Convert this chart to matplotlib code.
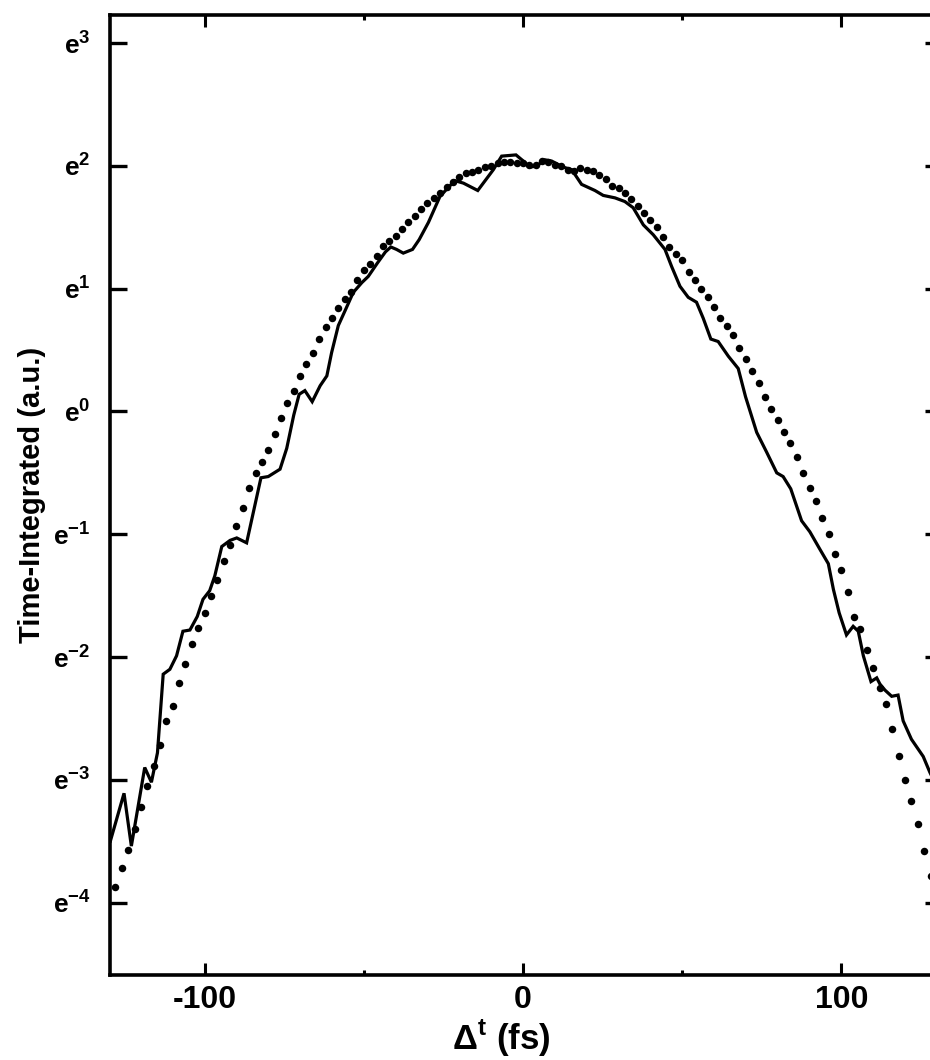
import numpy as np
import matplotlib
matplotlib.use("Agg")
import matplotlib.pyplot as plt
from matplotlib.ticker import FixedLocator, FixedFormatter

plt.rcParams['font.family'] = ['Liberation Sans', 'DejaVu Sans']
plt.rcParams['font.weight'] = 'bold'
plt.rcParams['mathtext.fontset'] = 'custom'
plt.rcParams['mathtext.rm'] = 'Liberation Sans:bold'

# measured trace (delay in fs, natural log of signal)
meas_t = [-129.6, -125.3, -123.0, -118.8, -116.7, -114.8, -113.0, -110.9, -108.8, -106.8,
          -104.6, -102.3, -100.5, -98.4, -96.8, -94.6, -92.0, -89.9, -86.8, -82.3,
          -80.0, -76.3, -74.2, -72.0, -70.3, -68.5, -66.2, -63.7, -61.6, -60.1,
          -58.0, -55.9, -53.3, -50.6, -48.6, -45.7, -43.2, -41.5, -39.7, -37.6,
          -34.7, -32.6, -29.7, -26.1, -24.0, -21.4, -18.7, -14.2, -9.3, -6.7,
          -2.2, 0.1, 2.2, 4.3, 6.9, 9.0, 12.7, 15.3, 18.4, 22.6,
          25.2, 28.9, 32.0, 34.6, 37.8, 40.9, 44.6, 46.7, 49.3, 51.9,
          54.5, 56.6, 59.0, 61.3, 64.5, 67.6, 69.9, 73.4, 76.5, 79.7,
          81.7, 84.1, 87.5, 90.1, 93.2, 95.9, 97.5, 99.3, 101.6, 103.7,
          105.3, 106.9, 109.3, 111.1, 112.1, 113.7, 115.8, 117.8, 119.4, 122.0,
          125.7, 127.8, 131.6]
meas_ln = [-3.50, -3.11, -3.54, -2.90, -3.02, -2.78, -2.14, -2.10, -1.99, -1.79,
           -1.78, -1.67, -1.53, -1.46, -1.34, -1.10, -1.05, -1.03, -1.07, -0.54,
           -0.53, -0.47, -0.30, -0.03, 0.14, 0.17, 0.08, 0.21, 0.29, 0.48,
           0.70, 0.82, 0.97, 1.05, 1.10, 1.21, 1.30, 1.34, 1.32, 1.29,
           1.32, 1.40, 1.54, 1.75, 1.81, 1.88, 1.86, 1.80, 1.97, 2.08,
           2.09, 2.04, 1.99, 2.00, 2.05, 2.04, 1.99, 1.97, 1.85, 1.80,
           1.76, 1.74, 1.71, 1.66, 1.52, 1.44, 1.32, 1.18, 1.02, 0.93,
           0.89, 0.76, 0.59, 0.57, 0.45, 0.35, 0.12, -0.17, -0.33, -0.50,
           -0.53, -0.63, -0.89, -0.98, -1.12, -1.24, -1.45, -1.64, -1.82, -1.75,
           -1.79, -1.99, -2.20, -2.17, -2.22, -2.27, -2.32, -2.31, -2.52, -2.67,
           -2.81, -2.94, -3.14]

# fitted curve, sampled every 2 fs from -128 to 128
fit_t = np.arange(-128, 129, 2)
fit_ln = [-3.87, -3.72, -3.57, -3.40, -3.22, -3.05, -2.89, -2.72, -2.52, -2.40,
          -2.21, -2.06, -1.89, -1.76, -1.64, -1.50, -1.37, -1.22, -1.09, -0.93,
          -0.79, -0.62, -0.50, -0.41, -0.31, -0.18, -0.05, 0.07, 0.17, 0.29,
          0.39, 0.48, 0.59, 0.69, 0.76, 0.84, 0.92, 0.97, 1.07, 1.15,
          1.20, 1.27, 1.35, 1.39, 1.43, 1.49, 1.54, 1.59, 1.65, 1.70,
          1.74, 1.78, 1.83, 1.87, 1.91, 1.94, 1.95, 1.97, 1.99, 2.00,
          2.02, 2.03, 2.03, 2.02, 2.02, 2.01, 2.01, 2.04, 2.03, 2.01,
          2.00, 1.97, 1.96, 1.98, 1.97, 1.96, 1.93, 1.89, 1.84, 1.82,
          1.78, 1.73, 1.67, 1.62, 1.56, 1.50, 1.42, 1.34, 1.28, 1.23,
          1.14, 1.07, 1.00, 0.93, 0.85, 0.76, 0.70, 0.62, 0.52, 0.43,
          0.33, 0.23, 0.12, 0.02, -0.07, -0.17, -0.26, -0.37, -0.50, -0.62,
          -0.73, -0.87, -1.00, -1.16, -1.29, -1.47, -1.67, -1.77, -1.94, -2.09,
          -2.25, -2.38, -2.59, -2.81, -3.00, -3.17, -3.36, -3.58, -3.78]

ytick_pow = [-4, -3, -2, -1, 0, 1, 2, 3]
ytick_labels = [r'$\mathregular{e^{%d}}$' % p for p in ytick_pow]
xtick_major = [-100, 0, 100]
xtick_minor = [-50, 50]

fig = plt.figure(figsize=(9.3, 10.6), dpi=100)
ax = fig.add_axes([0.1183, 0.0802, 0.8946, 0.9057])

ax.plot(meas_t, np.exp(meas_ln), color='black', lw=2.3, solid_joinstyle='miter')
ax.plot(fit_t, np.exp(fit_ln), 'o', color='black', ms=5.4, mew=0)

ax.set_yscale('log', base=np.e)
ax.set_xlim(-129.7, 131.6)
ax.set_ylim(np.exp(-4.59), np.exp(3.23))

ax.yaxis.set_major_locator(FixedLocator(np.exp(ytick_pow)))
ax.yaxis.set_major_formatter(FixedFormatter(ytick_labels))
ax.yaxis.set_minor_locator(FixedLocator([]))
ax.set_xticks(xtick_major)
ax.set_xticks(xtick_minor, minor=True)
ax.set_xticklabels([str(v) for v in xtick_major])

ax.tick_params(axis='y', which='major', direction='in', length=12, width=2.4,
               left=True, right=True, labelsize=19, pad=14)
ax.tick_params(axis='x', which='major', direction='in', length=8.5, width=2.2,
               bottom=True, top=True, labelsize=23, pad=7)
ax.tick_params(axis='x', which='minor', direction='in', length=3.5, width=2.2,
               bottom=True, top=True)
for s in ax.spines.values():
    s.set_linewidth(2.6)

ax.set_ylabel('Time-Integrated (a.u.)', fontsize=21, fontweight='bold', labelpad=5)
ax.set_xlabel(r'$\mathregular{\Delta^{t}}$ (fs)', fontsize=25, fontweight='bold', labelpad=1)
ax.xaxis.set_label_coords(0.47, -0.045)

fig.savefig('out.png', dpi=100, facecolor='white')
